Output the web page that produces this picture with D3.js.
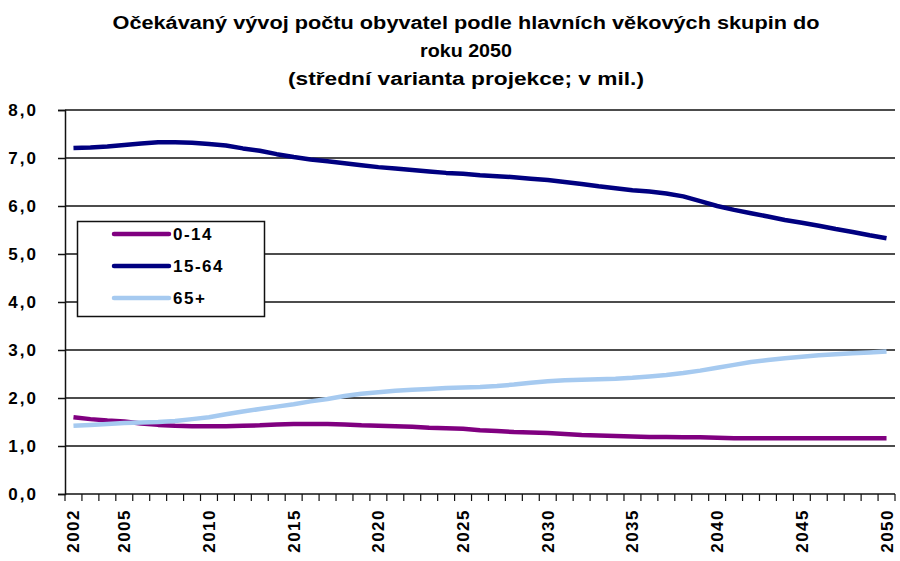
<body style="margin:0;background:#fff">
<script src="https://d3js.org/d3.v7.min.js"></script>
<script>
var years = d3.range(2002, 2051);
var tickYears = [2002, 2005, 2010, 2015, 2020, 2025, 2030, 2035, 2040, 2045, 2050];
var yTicks = [0, 1, 2, 3, 4, 5, 6, 7, 8];
var seriesNames = ['0-14', '15-64', '65+'];
var seriesColors = ['#800080', '#000080', '#a6caf0'];

var age0_14 = [1.60, 1.56, 1.53, 1.51, 1.47, 1.44, 1.42, 1.41, 1.41, 1.41,
  1.42, 1.43, 1.45, 1.46, 1.46, 1.46, 1.45, 1.43, 1.42, 1.41,
  1.40, 1.38, 1.37, 1.36, 1.33, 1.31, 1.29, 1.28, 1.27, 1.25,
  1.23, 1.22, 1.21, 1.20, 1.19, 1.19, 1.18, 1.18, 1.17, 1.16,
  1.16, 1.16, 1.16, 1.16, 1.16, 1.16, 1.16, 1.16, 1.16];
var age15_64 = [7.21, 7.22, 7.24, 7.27, 7.30, 7.33, 7.33, 7.32, 7.29, 7.26,
  7.20, 7.15, 7.08, 7.02, 6.97, 6.93, 6.89, 6.85, 6.81, 6.78,
  6.75, 6.72, 6.69, 6.67, 6.64, 6.62, 6.60, 6.57, 6.54, 6.50,
  6.46, 6.41, 6.37, 6.33, 6.30, 6.26, 6.20, 6.10, 6.00, 5.92,
  5.85, 5.78, 5.71, 5.65, 5.59, 5.52, 5.46, 5.39, 5.33];
var age65 = [1.42, 1.44, 1.46, 1.48, 1.49, 1.50, 1.52, 1.56, 1.60, 1.66,
  1.72, 1.77, 1.82, 1.87, 1.93, 1.98, 2.04, 2.09, 2.12, 2.15,
  2.17, 2.19, 2.21, 2.22, 2.23, 2.25, 2.28, 2.32, 2.35, 2.37,
  2.38, 2.39, 2.40, 2.42, 2.45, 2.48, 2.52, 2.57, 2.63, 2.69,
  2.75, 2.79, 2.83, 2.86, 2.89, 2.91, 2.93, 2.95, 2.97];

var W = 900, H = 561;
var plot = { left: 65, right: 895, top: 110, bottom: 494 };
var font = '"Liberation Sans", Arial, sans-serif';

var svg = d3.select('body').append('svg')
  .attr('width', W)
  .attr('height', H)
  .style('font-family', font);

// title
var titleLines = [
  { text: 'Očekávaný vývoj počtu obyvatel podle hlavních věkových skupin do', y: 29, len: 707 },
  { text: 'roku 2050', y: 57, len: 92 },
  { text: '(střední varianta projekce; v mil.)', y: 85, len: 356 }
];
svg.append('g').selectAll('text')
  .data(titleLines)
  .join('text')
    .attr('x', 466)
    .attr('y', d => d.y)
    .attr('text-anchor', 'middle')
    .attr('font-size', 18)
    .attr('font-weight', 'bold')
    .attr('textLength', d => d.len)
    .attr('lengthAdjust', 'spacingAndGlyphs')
    .text(d => d.text);

var x = d3.scaleBand()
  .domain(years)
  .range([plot.left, plot.right]);

var y = d3.scaleLinear()
  .domain([0, 8])
  .range([plot.bottom, plot.top]);

// gridlines
svg.append('g').selectAll('line')
  .data(yTicks.filter(v => v > 0))
  .join('line')
    .attr('x1', plot.left).attr('x2', plot.right)
    .attr('y1', d => y(d)).attr('y2', d => y(d))
    .attr('stroke', '#111')
    .attr('stroke-width', 1.5);

// y axis
var yAxis = svg.append('g')
  .attr('transform', `translate(${plot.left},0)`)
  .call(d3.axisLeft(y).tickValues(yTicks).tickSize(7).tickPadding(20)
    .tickFormat(d => d3.format('.1f')(d).replace('.', ',')));
yAxis.select('.domain').attr('stroke', '#111').attr('stroke-width', 1.5);
yAxis.selectAll('.tick line').attr('stroke', '#111').attr('stroke-width', 1.5);
yAxis.selectAll('text')
  .attr('font-size', 17)
  .attr('font-weight', 'bold')
  .attr('font-family', font)
  .attr('fill', '#000')
  .attr('letter-spacing', 2);

// x axis
var xAxisG = svg.append('g')
  .attr('transform', `translate(0,${plot.bottom})`);
xAxisG.append('line')
  .attr('x1', plot.left).attr('x2', plot.right)
  .attr('stroke', '#111').attr('stroke-width', 1.5);
xAxisG.selectAll('line.tk')
  .data(d3.range(years.length + 1))
  .join('line')
    .attr('class', 'tk')
    .attr('x1', i => plot.left + i * x.step())
    .attr('x2', i => plot.left + i * x.step())
    .attr('y1', 0).attr('y2', 7)
    .attr('stroke', '#111').attr('stroke-width', 1.2);
xAxisG.selectAll('text')
  .data(tickYears)
  .join('text')
    .attr('transform', d => `translate(${x(d) + x.bandwidth() / 2 + 6},15) rotate(-90)`)
    .attr('text-anchor', 'end')
    .attr('font-size', 17)
    .attr('font-weight', 'bold')
    .attr('letter-spacing', 1.5)
    .text(d => d);

// lines
var seriesData = [age0_14, age15_64, age65];
var line = d3.line()
  .x((d, i) => x(years[i]) + x.bandwidth() / 2)
  .y(d => y(d));

svg.append('g').selectAll('path')
  .data(seriesData)
  .join('path')
    .attr('d', d => line(d))
    .attr('fill', 'none')
    .attr('stroke', (d, i) => seriesColors[i])
    .attr('stroke-width', 4.5)
    .attr('stroke-linejoin', 'round');

// legend
var legend = svg.append('g');
legend.append('rect')
  .attr('x', 77.5).attr('y', 221.5)
  .attr('width', 187).attr('height', 95)
  .attr('fill', '#fff')
  .attr('stroke', '#111')
  .attr('stroke-width', 1.5);
var items = legend.selectAll('g')
  .data(seriesNames)
  .join('g')
    .attr('transform', (d, i) => `translate(0,${234 + i * 32})`);
items.append('line')
  .attr('x1', 114).attr('x2', 169)
  .attr('stroke', (d, i) => seriesColors[i])
  .attr('stroke-width', 4.5)
  .attr('stroke-linecap', 'round');
items.append('text')
  .attr('x', 173)
  .attr('dy', '0.35em')
  .attr('font-size', 17)
  .attr('font-weight', 'bold')
  .attr('letter-spacing', 1.5)
  .text(d => d);
</script>
</body>
